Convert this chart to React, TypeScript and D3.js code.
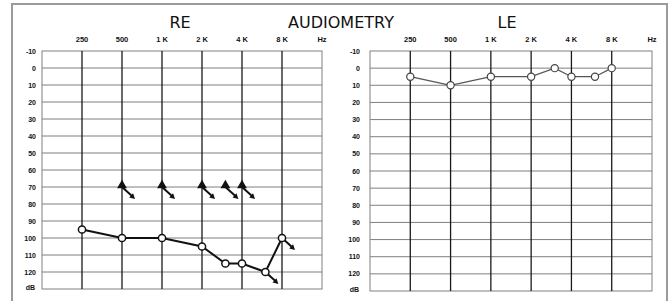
import * as d3 from 'd3';

// audiogram values (dB HL)
const freqs = [250, 500, 1000, 2000, 3000, 4000, 6000, 8000];
const rightEar = [95, 100, 100, 105, 115, 115, 120, 100];
const leftEar = [5, 10, 5, 5, 0, 5, 5, 0];
const boneFreqs = [500, 1000, 2000, 3000, 4000];
const boneRight = [70, 70, 70, 70, 70];
const noRespFreqs = [6000, 8000];
const noRespRight = [120, 100];

const freqTicks = [250, 500, 1000, 2000, 4000, 8000];
const freqTickLabels = ['250', '500', '1 K', '2 K', '4 K', '8 K'];
const dbTicks = [-10, 0, 10, 20, 30, 40, 50, 60, 70, 80, 90, 100, 110, 120];

const W = 672;
const H = 301;

type PanelProps = {
    x0: number;
    x1: number;
    y0: number;
    y1: number;
    labelGap: number;
    children: (x: d3.ScaleLogarithmic<number, number>, y: d3.ScaleLinear<number, number>) => any;
};

const Panel = ({ x0, x1, y0, y1, labelGap, children }: PanelProps) => {
    const x = d3.scaleLog().base(2).domain([125, 16000]).range([x0, x1]);
    const y = d3.scaleLinear().domain([-10, 130]).range([y0, y1]);
    const font = 'Liberation Sans, Arial, sans-serif';

    return (
        <g>
            {dbTicks.slice(1).map((d) => (
                <line key={'h' + d} x1={x0} x2={x1} y1={y(d)} y2={y(d)} stroke='#707070' strokeWidth={0.9} />
            ))}
            <rect x={x0} y={y0} width={x1 - x0} height={y1 - y0} fill='none' stroke='#808080' strokeWidth={1} />
            {freqTicks.map((f) => (
                <line key={'v' + f} x1={x(f)} x2={x(f)} y1={y0} y2={y1} stroke='#1a1a1a' strokeWidth={1.3} />
            ))}
            {freqTicks.map((f, i) => (
                <text key={'fl' + f} x={x(f)} y={y0 - 9} textAnchor='middle' fontFamily={font}
                    fontWeight='bold' fontSize={7.5} fill='#111'>{freqTickLabels[i]}</text>
            ))}
            <text x={x1} y={y0 - 9} textAnchor='middle' fontFamily={font} fontWeight='bold' fontSize={7.5} fill='#111'>Hz</text>
            {dbTicks.map((d) => (
                <text key={'dl' + d} x={x0 - labelGap} y={y(d) + 2.5} textAnchor='end' fontFamily={font}
                    fontWeight='bold' fontSize={7} fill='#111'>{d}</text>
            ))}
            <text x={x0 - labelGap - 1} y={y(130) + 1} textAnchor='end' fontFamily={font} fontWeight='bold' fontSize={7} fill='#111'>dB</text>
            {children(x, y)}
        </g>
    );
};

const Arrow = ({ x, y, color }: { x: number; y: number; color: string }) => {
    const dx = 13;
    const dy = 12;
    const ang = Math.atan2(dy, dx);
    const hx = x + dx;
    const hy = y + dy;
    const s = 6;
    const p1 = [hx - s * Math.cos(ang - 0.5), hy - s * Math.sin(ang - 0.5)];
    const p2 = [hx - s * Math.cos(ang + 0.5), hy - s * Math.sin(ang + 0.5)];
    return (
        <g>
            <line x1={x} y1={y} x2={hx - 3} y2={hy - 3} stroke={color} strokeWidth={2} />
            <path d={`M${hx},${hy}L${p1[0]},${p1[1]}L${p2[0]},${p2[1]}Z`} fill={color} />
        </g>
    );
};

function App() {
    const tri = d3.symbol().type(d3.symbolTriangle).size(42)();

    return (
        <svg width={W} height={H} style={{ position: 'absolute', left: 0, top: 0, background: '#fff' }}>
            <rect x={0} y={0} width={W} height={H} fill='#fff' />
            <rect x={12} y={4} width={655} height={320} fill='none' stroke='#9a9a9a' strokeWidth={2} />
            <g fontFamily='DejaVu Sans, Verdana, sans-serif' fontSize={16} fill='#111' textAnchor='middle'>
                <text x={180} y={28}>RE</text>
                <text x={341} y={28}>AUDIOMETRY</text>
                <text x={507} y={28}>LE</text>
            </g>

            <Panel x0={42} x1={322} y0={51} y1={289} labelGap={6}>
                {(x, y) => {
                    const pts = freqs.map((f, i) => [x(f), y(rightEar[i])] as [number, number]);
                    return (
                        <g>
                            {boneFreqs.map((f, i) => (
                                <g key={'b' + f}>
                                    <Arrow x={x(f)} y={y(boneRight[i])} color='#111' />
                                    <path d={tri!} transform={`translate(${x(f)},${y(boneRight[i]) - 1.5})`} fill='#111' />
                                </g>
                            ))}
                            {noRespFreqs.map((f, i) => (
                                <Arrow key={'n' + f} x={x(f)} y={y(noRespRight[i])} color='#111' />
                            ))}
                            <path d={d3.line()(pts)!} fill='none' stroke='#111' strokeWidth={2} />
                            {pts.map((p, i) => (
                                <circle key={'r' + i} cx={p[0]} cy={p[1]} r={3.6} fill='#fff' stroke='#111' strokeWidth={1.5} />
                            ))}
                        </g>
                    );
                }}
            </Panel>

            <Panel x0={370} x1={652} y0={51} y1={291} labelGap={10}>
                {(x, y) => {
                    const pts = freqs.map((f, i) => [x(f), y(leftEar[i])] as [number, number]);
                    return (
                        <g>
                            <path d={d3.line()(pts)!} fill='none' stroke='#555' strokeWidth={1.3} />
                            {pts.map((p, i) => (
                                <circle key={'l' + i} cx={p[0]} cy={p[1]} r={3.6} fill='#fff' stroke='#444' strokeWidth={1.2} />
                            ))}
                        </g>
                    );
                }}
            </Panel>
        </svg>
    );
}

export default App;
